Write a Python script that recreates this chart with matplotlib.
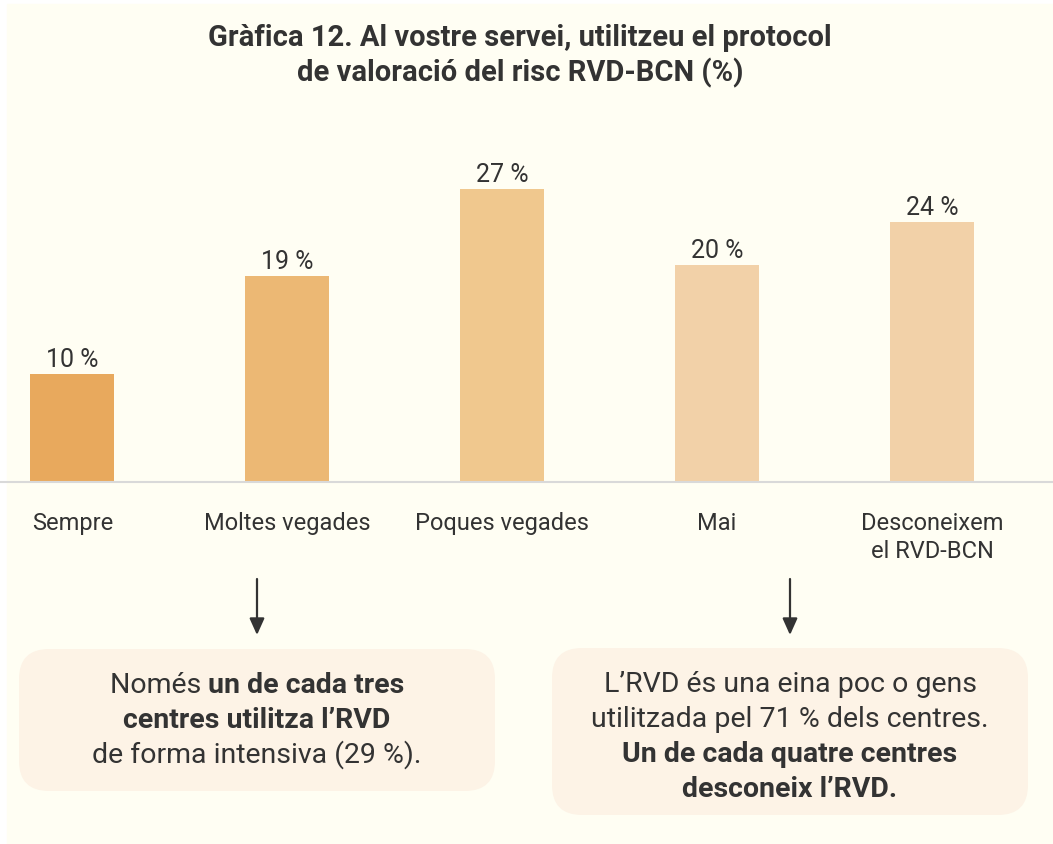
import matplotlib
matplotlib.use("Agg")
import matplotlib.pyplot as plt
from matplotlib.patches import FancyBboxPatch, Rectangle

plt.rcParams["font.family"] = ["Roboto", "DejaVu Sans"]

# ---------------------------------------------------------------------------
# data
# ---------------------------------------------------------------------------
categories = ["Sempre", "Moltes vegades", "Poques vegades", "Mai",
              "Desconeixem\nel RVD-BCN"]
values = [10, 19, 27, 20, 24]
bar_colors = ["#E8A95D", "#ECB874", "#F0C88E", "#F2D1A8", "#F2D1A8"]

title_lines = ["Gràfica 12. Al vostre servei, utilitzeu el protocol",
               "de valoració del risc RVD-BCN (%)"]

left_note = [
    [("Només ", "normal"), ("un de cada tres", "bold")],
    [("centres utilitza l’RVD", "bold")],
    [("de forma intensiva (29 %).", "normal")],
]
right_note = [
    [("L’RVD és una eina poc o gens", "normal")],
    [("utilitzada pel 71 % dels centres.", "normal")],
    [("Un de cada quatre centres", "bold")],
    [("desconeix l’RVD.", "bold")],
]

BG = "#FFFEF3"
BOX = "#FDF3E6"
INK = "#333333"

W, H = 1053, 845
fig = plt.figure(figsize=(W / 100, H / 100), dpi=100)
fig.patch.set_facecolor("white")

# overlay in pixel coordinates (y downwards) for the decorations
ov = fig.add_axes([0, 0, 1, 1])
ov.set_xlim(0, W)
ov.set_ylim(H, 0)
ov.axis("off")
ov.add_patch(Rectangle((7, 5), W, H, color=BG, zorder=0))

# ---------------------------------------------------------------------------
# bar chart
# ---------------------------------------------------------------------------
x0, step = 72.4, 214.9        # px centre of first bar, spacing
base_px, px_per_unit = 483, 10.85
top_px = 100
ax = fig.add_axes([0, (H - base_px) / H, 1, (base_px - top_px) / H])
ax.patch.set_alpha(0)
ax.set_xlim(-x0 / step, (W - x0) / step)
ax.set_ylim(0, (base_px - top_px) / px_per_unit)
xs = list(range(len(categories)))
bars = ax.bar(xs, values, width=84 / step, color=bar_colors, zorder=2)
for b, v in zip(bars, values):
    ax.annotate(f"{v} %", (b.get_x() + b.get_width() / 2, v),
                xytext=(0, 5.5), textcoords="offset points",
                ha="center", va="baseline", fontsize=18, color=INK)
for s in ["top", "right", "left"]:
    ax.spines[s].set_visible(False)
ax.spines["bottom"].set_color("#D9D9D9")
ax.spines["bottom"].set_linewidth(1.5)
ax.set_yticks([])
ax.set_xticks(xs)
ax.set_xticklabels(categories, fontsize=17, color=INK, linespacing=1.25)
ax.tick_params(axis="x", length=0, pad=21)

# ---------------------------------------------------------------------------
# title
# ---------------------------------------------------------------------------
for line, yb in zip(title_lines, [46, 81]):
    ov.text(520, yb, line, ha="center", va="baseline", fontsize=21,
            fontweight="bold", color=INK)

# ---------------------------------------------------------------------------
# arrows and notes
# ---------------------------------------------------------------------------
renderer = fig.canvas.get_renderer()


def mixed_line(cx, yb, parts, size=20.5):
    texts = []
    for txt, wt in parts:
        t = ov.text(0, yb, txt, ha="left", va="baseline", fontsize=size,
                    fontweight=wt, color=INK)
        texts.append(t)
    widths = []
    for t, (txt, wt) in zip(texts, parts):
        # keep trailing spaces in the measurement
        probe = ov.text(0, 0, txt.replace(" ", "\u00a0"), fontsize=size,
                        fontweight=wt)
        widths.append(probe.get_window_extent(renderer).width)
        probe.remove()
    x = cx - sum(widths) / 2
    for t, w in zip(texts, widths):
        t.set_x(x)
        x += w


for cx, (y0, y1), lines, baselines in [
        (257, (650, 792), left_note, [693, 728, 763]),
        (790, (649, 816), right_note, [692, 727, 762, 797])]:
    ov.annotate("", xy=(cx, 636), xytext=(cx, 580),
                arrowprops=dict(arrowstyle="-|>,head_length=1.0,head_width=0.45",
                                color=INK, lw=1.6, shrinkA=0, shrinkB=0))
    half = 238
    ov.add_patch(FancyBboxPatch((cx - half + 30, y0 + 30), 2 * half - 60,
                                (y1 - y0) - 60,
                                boxstyle="round,pad=30", color=BOX,
                                linewidth=0, zorder=1))
    for parts, yb in zip(lines, baselines):
        mixed_line(cx, yb, parts)

fig.savefig("out.png", dpi=100, facecolor=fig.get_facecolor())
